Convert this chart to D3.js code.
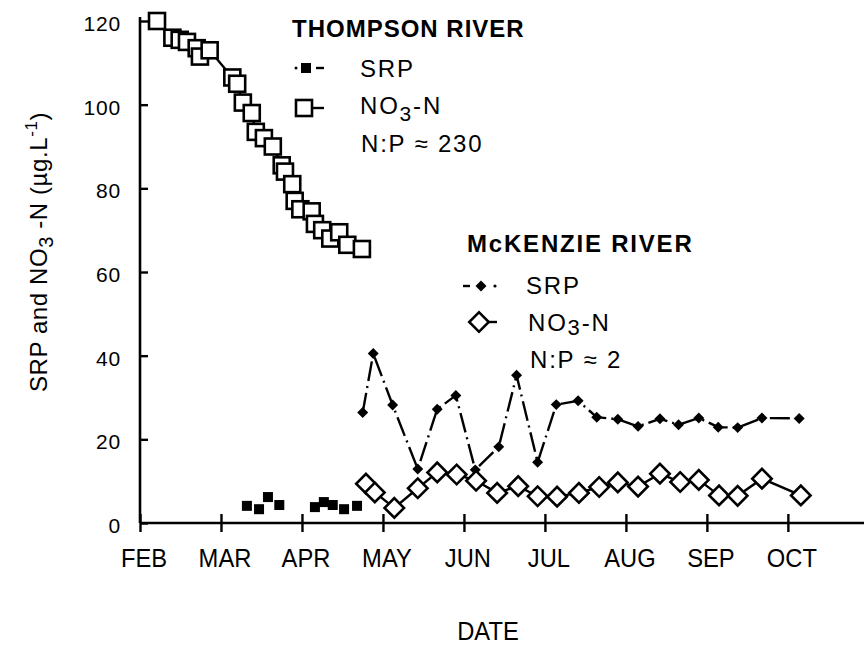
<!DOCTYPE html>
<html>
<head>
<meta charset="utf-8">
<script src="https://cdn.jsdelivr.net/npm/d3@7"></script>
<style>
  body { margin: 0; background: #fff; }
  svg { font-family: "Liberation Sans", Arial, sans-serif; }
</style>
</head>
<body>
<div id="chart"></div>
<script>
// Months are counted from 1 Feb (0 = FEB, 1 = MAR, ...)
const monthLabels = ['FEB', 'MAR', 'APR', 'MAY', 'JUN', 'JUL', 'AUG', 'SEP', 'OCT'];
const yTicks = [0, 20, 40, 60, 80, 100, 120];

// Thompson River
const thompsonNo3Month = [0.21, 0.40, 0.49, 0.58, 0.70, 0.74, 0.86, 1.14, 1.20, 1.27, 1.38, 1.43, 1.53,
  1.64, 1.75, 1.79, 1.88, 1.91, 1.98, 2.12, 2.16, 2.25, 2.35, 2.46, 2.56, 2.74];
const thompsonNo3Value = [120, 116, 115.5, 115, 113.5, 111.5, 113, 106.5, 105, 100.5, 98, 93.5, 92,
  90, 85.5, 84, 81, 77, 75, 74.5, 71.5, 70, 68, 69.5, 66.5, 65.5];
const thompsonSrpMonth = [1.32, 1.47, 1.58, 1.72, 2.16, 2.27, 2.38, 2.52, 2.68];
const thompsonSrpValue = [4.1, 3.3, 6.2, 4.3, 3.8, 5.0, 4.3, 3.3, 4.1];

// McKenzie River
const mckenzieSrpMonth = [2.75, 2.88, 3.12, 3.43, 3.67, 3.90, 4.14, 4.43, 4.65, 4.91, 5.14, 5.41, 5.64,
  5.90, 6.15, 6.42, 6.65, 6.90, 7.14, 7.38, 7.68, 8.14];
const mckenzieSrpValue = [26.4, 40.5, 28.2, 12.9, 27.2, 30.5, 12.7, 18.2, 35.3, 14.5, 28.3, 29.2, 25.3,
  24.8, 23.1, 24.9, 23.5, 25.1, 22.9, 22.8, 25.1, 25.0];
const mckenzieNo3Month = [2.79, 2.90, 3.14, 3.43, 3.67, 3.91, 4.15, 4.41, 4.67, 4.91, 5.15, 5.42, 5.67,
  5.90, 6.15, 6.42, 6.67, 6.90, 7.15, 7.38, 7.68, 8.16];
const mckenzieNo3Value = [9.4, 7.3, 3.6, 8.3, 12.1, 11.6, 10.1, 7.2, 8.8, 6.4, 6.3, 7.2, 8.6,
  9.7, 8.7, 11.8, 9.8, 10.3, 6.6, 6.5, 10.6, 6.6];

const zip = (ms, vs) => ms.map((m, i) => ({ m: m, v: vs[i] }));

const width = 865;
const height = 648;
const fs = 24; // main text size

const svg = d3.select('#chart')
  .append('svg')
  .attr('width', width)
  .attr('height', height)

const x = d3.scaleLinear().domain([0, 8.94]).range([140, 864]);
const y = d3.scaleLinear().domain([0, 120]).range([523, 21]);

// axes - ticks cross the axis line on both sides
const xAxis = d3.axisBottom(x).tickValues(d3.range(0, 9)).tickFormat('')
  .tickSizeInner(9).tickSizeOuter(0);
const gx = svg.append('g')
  .attr('transform', 'translate(0,' + y(0) + ')')
  .call(xAxis);
gx.select('.domain').attr('stroke-width', 2.6).attr('d', 'M' + x(0) + ',0H864');
gx.selectAll('.tick line').attr('y1', -9).attr('stroke-width', 2.4);

const yAxis = d3.axisLeft(y).tickValues(yTicks).tickFormat('').tickSizeInner(10).tickSizeOuter(0);
const gy = svg.append('g')
  .attr('transform', 'translate(' + x(0) + ',0)')
  .call(yAxis);
gy.select('.domain').attr('stroke-width', 2.6).attr('d', 'M0,' + (y(120) - 4) + 'V' + y(0));
gy.selectAll('.tick line').attr('x2', 8).attr('stroke-width', 2.4);

svg.selectAll('.ylab')
  .data(yTicks)
  .enter()
  .append('text')
  .attr('x', 121)
  .attr('y', (d) => y(d) + 10)
  .attr('text-anchor', 'end')
  .attr('font-size', 21)
  .attr('letter-spacing', 0.8)
  .text((d) => d);

svg.selectAll('.xlab')
  .data(monthLabels)
  .enter()
  .append('text')
  .attr('transform', (d, i) => 'translate(' + (x(i) + 4) + ',567) scale(0.95,1)')
  .attr('text-anchor', 'middle')
  .attr('font-size', fs + 1)
  .text((d) => d);

svg.append('text')
  .attr('transform', 'translate(488,640) scale(0.95,1)')
  .attr('text-anchor', 'middle')
  .attr('font-size', fs + 1)
  .text('DATE');

// y axis title
const yTitle = svg.append('text')
  .attr('transform', 'translate(47,252) rotate(-90)')
  .attr('text-anchor', 'middle')
  .attr('font-size', fs)
  .attr('letter-spacing', 0.6);
yTitle.append('tspan').text('SRP and NO');
yTitle.append('tspan').attr('dy', 6).attr('font-size', fs - 4).text('3');
yTitle.append('tspan').attr('dy', -6).text(' -N (µg.L');
yTitle.append('tspan').attr('dy', -10).attr('font-size', fs - 7).text('-1');
yTitle.append('tspan').attr('dy', 10).text(')');

const line = d3.line().x((d) => x(d.m)).y((d) => y(d.v));

// McKenzie SRP: dash-dot line and filled diamonds
svg.append('path')
  .datum(zip(mckenzieSrpMonth, mckenzieSrpValue))
  .attr('d', line)
  .attr('fill', 'none')
  .attr('stroke', '#000')
  .attr('stroke-width', 2.4)
  .attr('stroke-dasharray', '20,5,2,5');

const diamondSmall = d3.symbol().type(d3.symbolSquare).size(60);
svg.selectAll('.mksrp')
  .data(zip(mckenzieSrpMonth, mckenzieSrpValue))
  .enter()
  .append('path')
  .attr('d', diamondSmall)
  .attr('transform', (d) => 'translate(' + x(d.m) + ',' + y(d.v) + ') rotate(45)')
  .attr('fill', '#000');

// McKenzie NO3: solid line with open diamonds
svg.append('path')
  .datum(zip(mckenzieNo3Month, mckenzieNo3Value))
  .attr('d', line)
  .attr('fill', 'none')
  .attr('stroke', '#000')
  .attr('stroke-width', 2.4);

const diamondBig = d3.symbol().type(d3.symbolSquare).size(190);
svg.selectAll('.mkno3')
  .data(zip(mckenzieNo3Month, mckenzieNo3Value))
  .enter()
  .append('path')
  .attr('d', diamondBig)
  .attr('transform', (d) => 'translate(' + x(d.m) + ',' + y(d.v) + ') rotate(45)')
  .attr('fill', '#fff')
  .attr('stroke', '#000')
  .attr('stroke-width', 2.6);

// Thompson SRP: filled squares
svg.selectAll('.thsrp')
  .data(zip(thompsonSrpMonth, thompsonSrpValue))
  .enter()
  .append('rect')
  .attr('x', (d) => x(d.m) - 5)
  .attr('y', (d) => y(d.v) - 5)
  .attr('width', 10)
  .attr('height', 10)
  .attr('fill', '#000');

// Thompson NO3: solid line with open squares
svg.append('path')
  .datum(zip(thompsonNo3Month, thompsonNo3Value))
  .attr('d', line)
  .attr('fill', 'none')
  .attr('stroke', '#000')
  .attr('stroke-width', 2.4);

svg.selectAll('.thno3')
  .data(zip(thompsonNo3Month, thompsonNo3Value))
  .enter()
  .append('rect')
  .attr('x', (d) => x(d.m) - 8)
  .attr('y', (d) => y(d.v) - 8)
  .attr('width', 16)
  .attr('height', 16)
  .attr('fill', '#fff')
  .attr('stroke', '#000')
  .attr('stroke-width', 2.6);

// Legends
function legendText(xp, yp, parts) {
  const t = svg.append('text').attr('x', xp).attr('y', yp).attr('font-size', fs)
    .attr('letter-spacing', 1.8);
  parts.forEach((p) => {
    t.append('tspan').attr('dy', p.dy || 0).attr('font-size', p.size || fs).text(p.t);
  });
  return t;
}

svg.append('text').attr('x', 292).attr('y', 37).attr('font-size', fs).attr('font-weight', 'bold')
  .attr('letter-spacing', 1).text('THOMPSON RIVER');
// SRP marker
svg.append('circle').attr('cx', 296).attr('cy', 68).attr('r', 1.5).attr('fill', '#000');
svg.append('rect').attr('x', 301).attr('y', 63).attr('width', 10).attr('height', 10).attr('fill', '#000');
svg.append('line').attr('x1', 316).attr('x2', 324).attr('y1', 68).attr('y2', 68).attr('stroke', '#000').attr('stroke-width', 2.4);
legendText(360, 77, [{ t: 'SRP' }]);
// NO3 marker
svg.append('line').attr('x1', 305).attr('x2', 324).attr('y1', 108).attr('y2', 108).attr('stroke', '#000').attr('stroke-width', 2.4);
svg.append('rect').attr('x', 296).attr('y', 100).attr('width', 16).attr('height', 16)
  .attr('fill', '#fff').attr('stroke', '#000').attr('stroke-width', 2.6);
legendText(360, 114, [{ t: 'NO' }, { t: '3', dy: 7, size: fs - 3 }, { t: '-N', dy: -7 }]);
legendText(361, 152, [{ t: 'N:P \u2248 230' }]);

svg.append('text').attr('x', 467).attr('y', 252).attr('font-size', fs).attr('font-weight', 'bold')
  .attr('letter-spacing', 1.8).text('McKENZIE RIVER');
svg.append('line').attr('x1', 463).attr('x2', 470).attr('y1', 286).attr('y2', 286).attr('stroke', '#000').attr('stroke-width', 2.4);
svg.append('path').attr('d', diamondSmall).attr('transform', 'translate(481,286) rotate(45)').attr('fill', '#000');
svg.append('circle').attr('cx', 495).attr('cy', 286).attr('r', 1.6).attr('fill', '#000');
legendText(526, 294, [{ t: 'SRP' }]);
svg.append('line').attr('x1', 480).attr('x2', 497).attr('y1', 322).attr('y2', 322).attr('stroke', '#000').attr('stroke-width', 2.4);
svg.append('path').attr('d', diamondBig).attr('transform', 'translate(479,322) rotate(45)')
  .attr('fill', '#fff').attr('stroke', '#000').attr('stroke-width', 2.6);
legendText(528, 331, [{ t: 'NO' }, { t: '3', dy: 4, size: fs - 2 }, { t: '-N', dy: -4 }]);
legendText(530, 368, [{ t: 'N:P \u2248 2' }]);
</script>
</body>
</html>
